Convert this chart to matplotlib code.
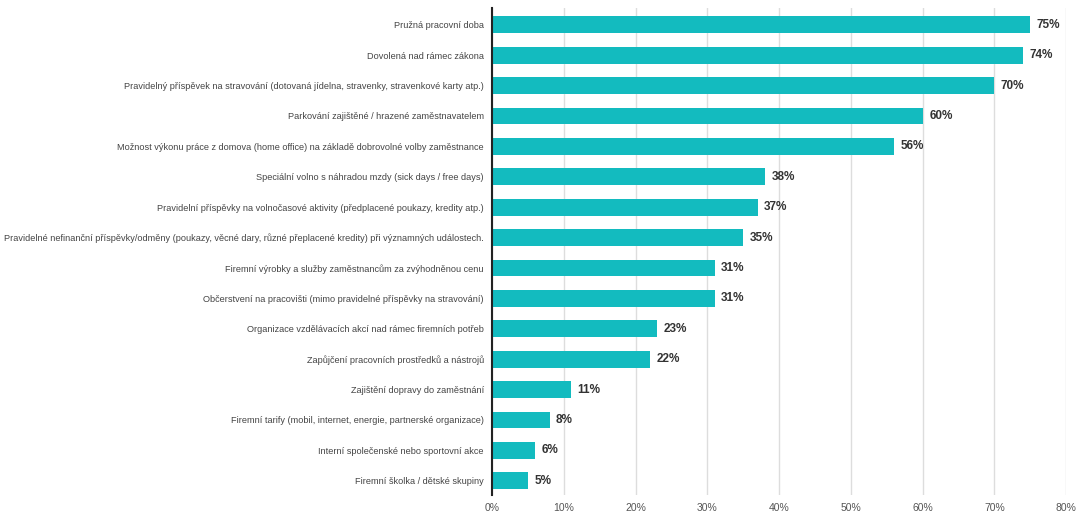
import numpy as np
import matplotlib.pyplot as plt

plt.rcParams['font.family'] = ['Liberation Sans', 'DejaVu Sans']

categories = [
    "Pružná pracovní doba",
    "Dovolená nad rámec zákona",
    "Pravidelný příspěvek na stravování (dotovaná jídelna, stravenky, stravenkové karty atp.)",
    "Parkování zajištěné / hrazené zaměstnavatelem",
    "Možnost výkonu práce z domova (home office) na základě dobrovolné volby zaměstnance",
    "Speciální volno s náhradou mzdy (sick days / free days)",
    "Pravidelní příspěvky na volnočasové aktivity (předplacené poukazy, kredity atp.)",
    "Pravidelné nefinanční příspěvky/odměny (poukazy, věcné dary, různé přeplacené kredity) při významných událostech.",
    "Firemní výrobky a služby zaměstnancům za zvýhodněnou cenu",
    "Občerstvení na pracovišti (mimo pravidelné příspěvky na stravování)",
    "Organizace vzdělávacích akcí nad rámec firemních potřeb",
    "Zapůjčení pracovních prostředků a nástrojů",
    "Zajištění dopravy do zaměstnání",
    "Firemní tarify (mobil, internet, energie, partnerské organizace)",
    "Interní společenské nebo sportovní akce",
    "Firemní školka / dětské skupiny",
]
values = [75, 74, 70, 60, 56, 38, 37, 35, 31, 31, 23, 22, 11, 8, 6, 5]
xticks = [0, 10, 20, 30, 40, 50, 60, 70, 80]

fig = plt.figure(figsize=(10.77, 5.17), dpi=100)
ax = fig.add_axes([0.457, 0.043, 0.533, 0.942])

y = np.arange(len(categories))
ax.barh(y, values, height=0.55, color='#13BBBF', zorder=3)
for yi, v in zip(y, values):
    ax.text(v + 0.9, yi, f"{v}%", va='center', ha='left', fontsize=8.5,
            fontweight='bold', color='#333333')

ax.set_yticks(y)
ax.set_yticklabels(categories, fontsize=6.6, color='#444444')
ax.set_ylim(15.46, -0.56)
ax.set_xlim(0, 80)
ax.set_xticks(xticks)
ax.set_xticklabels([f"{t}%" for t in xticks], fontsize=7.5, color='#555555')
ax.tick_params(axis='y', length=0, pad=6)
ax.tick_params(axis='x', length=0, pad=6)
ax.grid(axis='x', color='#dddddd', linewidth=1, zorder=0)
for s in ['top', 'right', 'bottom']:
    ax.spines[s].set_visible(False)
ax.spines['left'].set_color('#222222')
ax.spines['left'].set_linewidth(1.5)
ax.spines['left'].set_zorder(4)

fig.savefig('out.png', dpi=100)
